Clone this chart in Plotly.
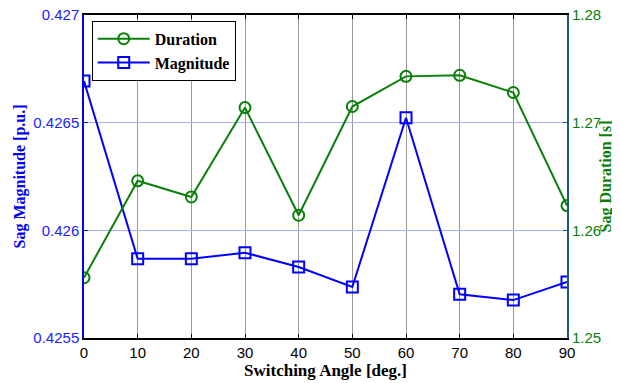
import plotly.graph_objects as go

angles = [0, 10, 20, 30, 40, 50, 60, 70, 80, 90]
magnitude = [0.426693, 0.425868, 0.425868, 0.425896, 0.425830, 0.425737, 0.426523, 0.425703, 0.425676, 0.425760]
duration = [1.2556, 1.2646, 1.2631, 1.2714, 1.2614, 1.2715, 1.2743, 1.2744, 1.2728, 1.2623]
mag_ticks = [0.4255, 0.426, 0.4265, 0.427]
mag_tick_labels = ["0.4255", "0.426", "0.4265", "0.427"]
dur_ticks = [1.25, 1.26, 1.27, 1.28]
dur_tick_labels = ["1.25", "1.26", "1.27", "1.28"]

BLUE = "#0000ff"
GREEN = "#0a800a"

fig = go.Figure()
fig.add_trace(go.Scatter(
    x=angles, y=duration, name="Duration", yaxis="y2",
    mode="lines+markers",
    line=dict(color=GREEN, width=2),
    marker=dict(symbol="circle-open", size=11, color=GREEN, line=dict(width=2, color=GREEN)),
))
fig.add_trace(go.Scatter(
    x=angles, y=magnitude, name="Magnitude", yaxis="y",
    mode="lines+markers",
    line=dict(color=BLUE, width=2),
    marker=dict(symbol="square-open", size=11, color=BLUE, line=dict(width=2, color=BLUE)),
))

# page body has an 8px default margin, so the figure is shrunk by 8px and offset
fig.update_layout(
    width=612, height=375,
    margin=dict(l=76, r=53, t=7, b=45, autoexpand=False),
    paper_bgcolor="white", plot_bgcolor="white",
    showlegend=True,
    legend=dict(
        x=0.016, y=0.982, xanchor="left", yanchor="top",
        bgcolor="white", bordercolor="black", borderwidth=1,
        font=dict(family="Liberation Serif", size=16, color="black", weight="bold"),
        itemwidth=52,
    ),
    xaxis=dict(
        range=[0, 90], tickvals=angles, ticktext=[str(a) for a in angles],
        showline=True, linecolor="black", linewidth=1.5, mirror="ticks",
        ticks="inside", ticklen=4, tickcolor="black",
        showgrid=True, gridcolor="#999999", gridwidth=1,
        zeroline=False, automargin=False, ticklabeloverflow="allow",
        tickfont=dict(family="Liberation Sans", size=15, color="black"),
        title=dict(text="Switching Angle [deg.]", standoff=2,
                   font=dict(family="Liberation Serif", size=17, color="black", weight="bold")),
    ),
    yaxis=dict(
        range=[0.4255, 0.427], tickvals=mag_ticks, ticktext=mag_tick_labels,
        showline=True, linecolor=BLUE, linewidth=1.5,
        ticks="inside", ticklen=4, tickcolor=BLUE,
        showgrid=True, gridcolor="#aab0ff", gridwidth=1,
        zeroline=False, automargin=False, ticklabeloverflow="allow",
        tickfont=dict(family="Liberation Sans", size=15, color="#2222ff"),
        title=dict(text="Sag Magnitude [p.u.]", standoff=4,
                   font=dict(family="Liberation Serif", size=16, color=BLUE, weight="bold")),
    ),
    yaxis2=dict(
        range=[1.25, 1.28], tickvals=dur_ticks, ticktext=dur_tick_labels,
        overlaying="y", side="right",
        showline=True, linecolor="#1a5a78", linewidth=2,
        ticks="inside", ticklen=4, tickcolor="#1a5a78",
        showgrid=False, zeroline=False, automargin=False, ticklabeloverflow="allow",
        tickfont=dict(family="Liberation Sans", size=15, color=GREEN),
    ),
    annotations=[dict(
        text="Sag Duration [s]", xref="paper", yref="paper",
        x=1, y=0.5, xanchor="center", yanchor="middle", xshift=38,
        textangle=-90, showarrow=False,
        font=dict(family="Liberation Serif", size=16, color=GREEN, weight="bold"),
    )],
)

fig.write_html("out.html")
